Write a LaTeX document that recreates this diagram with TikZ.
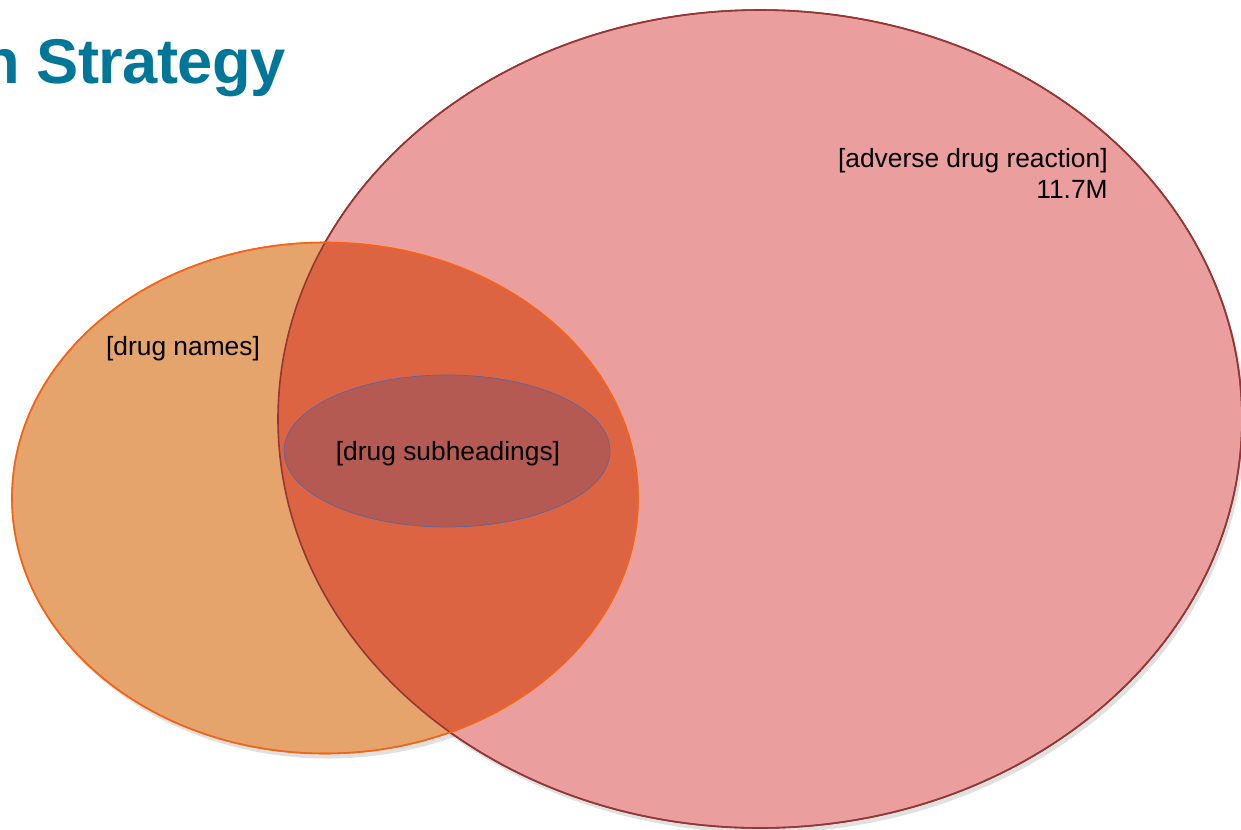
\documentclass[tikz,border=0pt]{standalone}
\usepackage{fontspec}
\setmainfont{Liberation Sans}
\newfontfamily\titlefont[LetterSpace=-1]{Liberation Sans}
\usepackage{tikz}
\usetikzlibrary{shapes.geometric,positioning}

\definecolor{adrpink}{RGB}{234,158,158}
\definecolor{adrline}{RGB}{148,54,52}
\definecolor{namefill}{RGB}{229,164,107}
\definecolor{nameline}{RGB}{242,122,30}
\definecolor{bothfill}{RGB}{220,100,67}
\definecolor{subfill}{RGB}{181,90,82}
\definecolor{subline}{RGB}{92,100,160}
\definecolor{titleblue}{RGB}{0,118,152}

\begin{document}
\begin{tikzpicture}[
    x=0.02cm, y=-0.02cm,
    set/.style={ellipse, inner sep=0pt, outer sep=0pt},
    adrset/.style={set, minimum width=964*0.02cm, minimum height=818*0.02cm},
    nameset/.style={set, minimum width=626*0.02cm, minimum height=511*0.02cm},
    shadeset/.style={fill=black, opacity=0.12},
    setlabel/.style={font=\fontsize{15}{17.6}\selectfont, inner sep=0pt, text=black},
    title/.style={font=\titlefont\fontsize{36}{42}\selectfont\bfseries, text=titleblue, inner sep=0pt}
  ]
    \useasboundingbox (0,0) rectangle (1241,829);

    % Title (cut at the left edge)
    \node[title, anchor=base east] (ttl) at (286,83) {n Strategy};

    % Soft shadows
    \node[adrset, shadeset] (adrsh) at (763,424) {};
    \node[nameset, shadeset] (namesh) at (328,503) {};

    % Sets
    \node[adrset, fill=adrpink, draw=adrline, line width=0.9pt] (adr) at (760,419) {};
    \node[nameset, fill=namefill, draw=nameline, line width=0.9pt] (names) at (325,498) {};

    % Overlap of the two big sets
    \begin{scope}
      \clip (760,419) ellipse [x radius=482, y radius=409];
      \node[nameset, fill=bothfill] (both) at (325,498) {};
    \end{scope}
    \node[adrset, draw=adrline, line width=0.9pt] (adrrim) at (760,419) {};
    \node[nameset, draw=nameline!80!red, line width=0.9pt] (namesrim) at (325,498) {};

    \node[set, fill=subfill, draw=subline, line width=0.4pt,
          minimum width=326*0.02cm, minimum height=152*0.02cm] (sub) at (447,451) {};

    % Labels
    \node[setlabel, align=right, anchor=east] (adrlbl) at (1108,173) {[adverse drug reaction]\\11.7M};
    \node[setlabel] (nameslbl) at (183,349) {[drug names]};
    \node[setlabel] (sublbl) at (448,454) {[drug subheadings]};
  \end{tikzpicture}
\end{document}
